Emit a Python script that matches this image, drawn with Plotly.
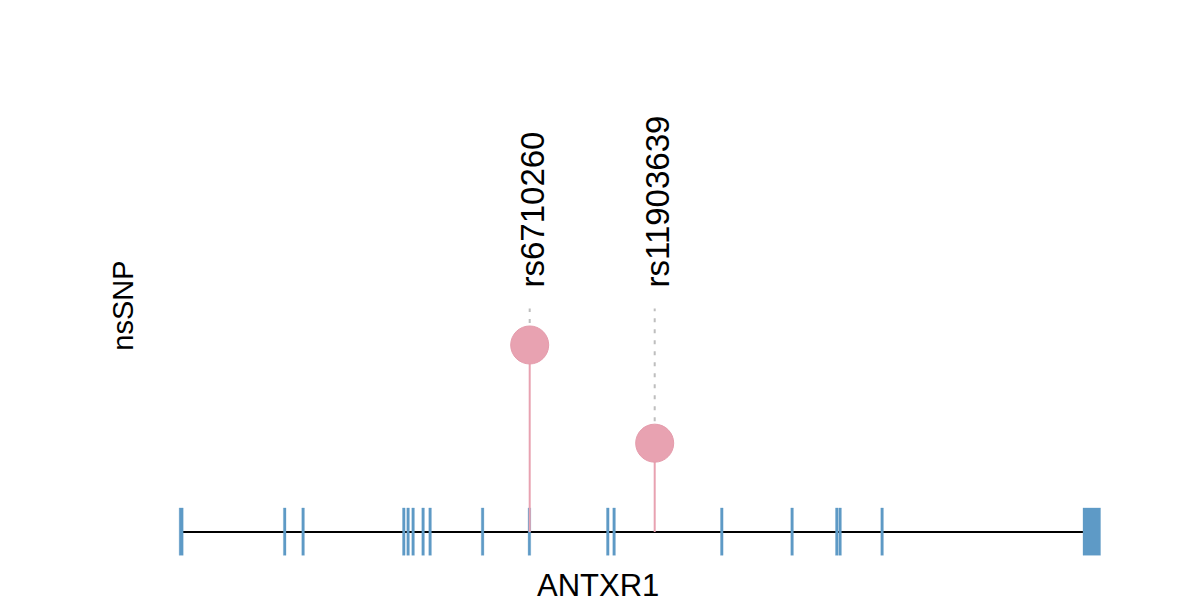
import plotly.graph_objects as go

# ---- data (relative gene coordinates) ----
gene_name = "ANTXR1"
track_label = "nsSNP"
backbone = [0, 903]
exon_starts = [-0.8, 103.4, 121.8, 222.5, 226.8, 231.8, 241.8, 248.8, 301.3, 348.1, 426.5, 432.8, 540.5, 610.8, 655.5, 658.8, 700.8, 903.0]
exon_ends = [3.2, 106.0, 124.4, 225.1, 229.4, 234.4, 244.4, 251.4, 303.9, 350.7, 429.1, 435.4, 543.1, 613.4, 658.1, 661.4, 703.4, 920.5]
snp_ids = ["rs6710260", "rs11903639"]
snp_pos = [349.7, 474.7]
snp_height = [2.0, 0.95]
label_line_top = 2.39
label_base = 2.59
exon_bottom, exon_top = -0.25, 0.257

exon_color = "#5E9AC6"
snp_color = "#E8A2B1"
font_family = "Liberation Sans"

fig = go.Figure()

# backbone
fig.add_trace(go.Scatter(x=backbone, y=[0, 0], mode="lines",
                         line=dict(color="black", width=2), hoverinfo="skip", showlegend=False))

# exons as filled polygons
ex_x, ex_y = [], []
for s, e in zip(exon_starts, exon_ends):
    ex_x += [s, e, e, s, s, None]
    ex_y += [exon_bottom, exon_bottom, exon_top, exon_top, exon_bottom, None]
fig.add_trace(go.Scatter(x=ex_x, y=ex_y, mode="lines", fill="toself", fillcolor=exon_color,
                         line=dict(color="rgba(94,154,198,0.5)", width=0.6),
                         hoverinfo="skip", showlegend=False))

# snp stems and dashed connectors
for p, h in zip(snp_pos, snp_height):
    fig.add_trace(go.Scatter(x=[p, p], y=[0, h], mode="lines",
                             line=dict(color=snp_color, width=2), hoverinfo="skip", showlegend=False))
    fig.add_trace(go.Scatter(x=[p, p], y=[h, label_line_top], mode="lines",
                             line=dict(color="#BEBEBE", width=2, dash="4px,7px"),
                             hoverinfo="skip", showlegend=False))

fig.add_trace(go.Scatter(x=snp_pos, y=snp_height, mode="markers",
                         marker=dict(size=38, color=snp_color,
                                     line=dict(color="#E59CAC", width=1)),
                         text=snp_ids, showlegend=False))

annotations = []
for sid, p in zip(snp_ids, snp_pos):
    annotations.append(dict(x=p + 3, y=label_base, xref="x", yref="y", text=sid, showarrow=False,
                            textangle=-90, xanchor="center", yanchor="bottom",
                            font=dict(family=font_family, size=33, color="black")))
annotations.append(dict(x=-57, y=2.42, xref="x", yref="y", text=track_label, showarrow=False,
                        textangle=-90, xanchor="center", yanchor="middle",
                        font=dict(family=font_family, size=29, color="black")))
annotations.append(dict(x=418, y=-0.57, xref="x", yref="y", text=gene_name, showarrow=False,
                        xanchor="center", yanchor="middle",
                        font=dict(family=font_family, size=31, color="black")))

fig.update_layout(
    width=1200, height=600,
    margin=dict(l=0, r=0, t=0, b=0),
    paper_bgcolor="white", plot_bgcolor="white",
    annotations=annotations,
    xaxis=dict(range=[-172, 1028], visible=False, fixedrange=True),
    yaxis=dict(range=[-0.813, 5.604], visible=False, fixedrange=True),
)

fig.write_html("out.html")
